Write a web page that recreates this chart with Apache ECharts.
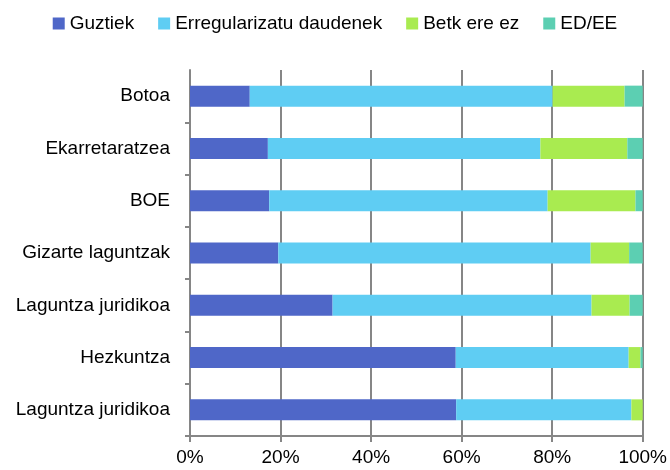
<!DOCTYPE html>
<html><head><meta charset="utf-8">
<script src="https://cdn.jsdelivr.net/npm/echarts@6/dist/echarts.min.js"></script>
<style>html,body{margin:0;padding:0;background:#fff}#c{width:670px;height:470px}</style>
</head><body><div id="c"></div>
<script>
var categories = ["Botoa","Ekarretaratzea","BOE","Gizarte laguntzak","Laguntza juridikoa","Hezkuntza","Laguntza juridikoa"];
var seriesNames = ["Guztiek","Erregularizatu daudenek","Betk ere ez","ED/EE"];
var guztiek = [13.2,17.2,17.5,19.5,31.5,58.7,58.8];
var erregularizatu = [66.9,60.2,61.5,69.0,57.2,38.2,38.7];
var betk = [15.9,19.2,19.4,8.5,8.4,2.6,2.5];
var edee = [4.0,3.4,1.6,3.0,2.9,0.5,0.0];
var xTicks = [0,20,40,60,80,100];
var colors = ["#4F67C8","#5FCDF3","#A9EB50","#5CCFB2"];
var values = [guztiek, erregularizatu, betk, edee];
var font = "Liberation Sans";
var fs = 19;
var chart = echarts.init(document.getElementById('c'), null, {renderer:'canvas'});
chart.setOption({
  animation:false,
  color: colors,
  legend:{
    top: 9, left:'center', itemWidth:12, itemHeight:12, itemGap:24,
    icon:'rect',
    textStyle:{fontFamily:font, fontSize:fs, color:'#000'},
    data: seriesNames
  },
  grid:{left:190, right:26, top:70, bottom:34, containLabel:false},
  xAxis:{
    type:'value', min:xTicks[0], max:xTicks[xTicks.length-1], interval:20,
    axisLine:{show:true, lineStyle:{color:'#868686', width:2}},
    axisTick:{show:true, length:6, lineStyle:{color:'#868686', width:2}},
    splitLine:{show:true, lineStyle:{color:'#868686', width:2}},
    axisLabel:{formatter:'{value}%', fontFamily:font, fontSize:fs, color:'#000', margin:12}
  },
  yAxis:{
    type:'category', inverse:true, data:categories,
    axisLine:{show:true, lineStyle:{color:'#868686', width:2}},
    axisTick:{show:true, length:5, interval:function(i){return i!==0;}, lineStyle:{color:'#868686', width:2}},
    axisLabel:{fontFamily:font, fontSize:fs, color:'#000', margin:20}
  },
  series: seriesNames.map(function(n,i){
    return {name:n, type:'bar', stack:'s', barWidth:21, data:values[i],
      itemStyle:{color:colors[i]}};
  })
});
</script></body></html>
